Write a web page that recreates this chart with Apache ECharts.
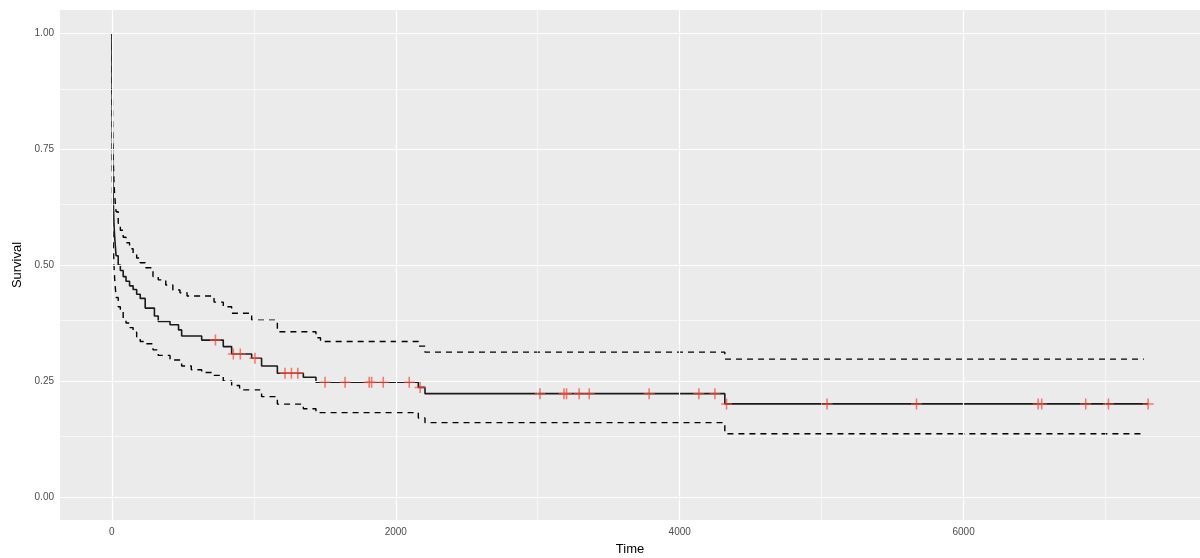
<!DOCTYPE html>
<html>
<head>
<meta charset="utf-8">
<script src="https://cdn.jsdelivr.net/npm/echarts@6/dist/echarts.min.js"></script>
<style>
html,body{margin:0;padding:0;background:#fff;}
#chart{width:1200px;height:558px;}
</style>
</head>
<body>
<div id="chart"></div>
<script>
// Kaplan-Meier estimate (time, survival after step)
const kmTime = [0,1,2,3,5,7,10,15,20,30,45,60,80,100,125,150,175,200,235,300,327,410,470,492,633,785,844,985,1055,1166,1349,1438,2159,2206,4318,7300];
const kmSurv = [1.0,0.93,0.86,0.80,0.74,0.69,0.64,0.59,0.56,0.52,0.50,0.488,0.475,0.465,0.455,0.447,0.437,0.428,0.407,0.39,0.378,0.371,0.36,0.347,0.338,0.324,0.308,0.299,0.282,0.2665,0.258,0.247,0.236,0.2225,0.2004,0.2004];

// Upper confidence bound
const upTime = [0,1,2,3,5,7,10,15,20,30,45,60,80,100,125,150,175,200,235,290,327,380,430,480,530,720,785,844,985,1166,1438,1470,2159,2206,4318,7270];
const upVal  = [1.0,0.98,0.94,0.89,0.83,0.78,0.73,0.68,0.65,0.615,0.59,0.575,0.56,0.548,0.535,0.525,0.515,0.505,0.494,0.475,0.468,0.457,0.446,0.44,0.433,0.42,0.41,0.396,0.381,0.356,0.343,0.335,0.325,0.312,0.297,0.297];

// Lower confidence bound
const loTime = [0,1,2,3,5,7,10,15,20,30,45,60,80,100,125,150,175,200,235,290,327,410,492,560,633,720,785,844,900,1055,1166,1349,1438,2159,2206,4318,7270];
const loVal  = [1.0,0.86,0.77,0.70,0.64,0.59,0.55,0.50,0.47,0.43,0.41,0.40,0.385,0.375,0.365,0.355,0.345,0.335,0.33,0.317,0.305,0.295,0.282,0.274,0.268,0.262,0.25,0.24,0.2306,0.216,0.20,0.19,0.1817,0.17,0.16,0.136,0.136];

// Censored observations
const censTime = [730,856,905,1008,1220,1265,1310,1502,1643,1813,1830,1912,2095,2172,3016,3185,3203,3292,3363,3785,4135,4248,4330,5038,5668,6525,6550,6860,7020,7300];
const censSurv = [0.338,0.308,0.308,0.299,0.2665,0.2665,0.2665,0.247,0.247,0.247,0.247,0.247,0.247,0.236,0.2225,0.2225,0.2225,0.2225,0.2225,0.2225,0.2225,0.2225,0.2004,0.2004,0.2004,0.2004,0.2004,0.2004,0.2004,0.2004];

const xTicks = [0,2000,4000,6000];
const xMinor = [1000,3000,5000,7000];
const yTicks = [0,0.25,0.5,0.75,1];
const yMinor = [0.125,0.375,0.625,0.875];

const zip = (a,b) => a.map((v,i)=>[v,b[i]]);

const gridLines = [];
xTicks.forEach(v=>gridLines.push({xAxis:v, lineStyle:{width:1.2}}));
xMinor.forEach(v=>gridLines.push({xAxis:v, lineStyle:{width:0.6}}));
yTicks.forEach(v=>gridLines.push({yAxis:v, lineStyle:{width:1.2}}));
yMinor.forEach(v=>gridLines.push({yAxis:v, lineStyle:{width:0.6}}));

const chart = echarts.init(document.getElementById('chart'), null, {renderer:'canvas'});
const font = '"Liberation Sans", Arial, sans-serif';
chart.setOption({
  animation:false,
  backgroundColor:'#ffffff',
  grid:{left:60,right:0,top:10,bottom:38,show:true,backgroundColor:'#EBEBEB',borderWidth:0,
        containLabel:false,outerBoundsMode:'none'},
  xAxis:{
    type:'value', min:-365, max:7665,
    name:'Time', nameLocation:'middle', nameGap:23,
    nameTextStyle:{color:'#000',fontSize:13,fontFamily:font},
    axisLine:{show:false},
    axisTick:{show:true,length:3,customValues:xTicks,lineStyle:{color:'#333',width:1}},
    axisLabel:{customValues:xTicks,color:'#4D4D4D',fontSize:10,fontFamily:font,margin:7,
      formatter:v=>String(Math.round(v))},
    splitLine:{show:false}
  },
  yAxis:{
    type:'value', min:-0.05, max:1.05,
    name:'Survival', nameLocation:'middle', nameGap:35, nameRotate:90,
    nameTextStyle:{color:'#000',fontSize:13,fontFamily:font},
    axisLine:{show:false},
    axisTick:{show:true,length:3,customValues:yTicks,lineStyle:{color:'#333',width:1}},
    axisLabel:{customValues:yTicks,color:'#4D4D4D',fontSize:10,fontFamily:font,margin:6,
      formatter:v=>Number(v).toFixed(2)},
    splitLine:{show:false}
  },
  series:[
    {type:'line',data:[],z:1,silent:true,
     markLine:{silent:true,symbol:['none','none'],label:{show:false},
       lineStyle:{color:'#ffffff',type:'solid'},data:gridLines,animation:false}},
    {type:'line',name:'upper',step:'end',showSymbol:false,symbol:'none',z:3,
     data:zip(upTime,upVal),lineStyle:{color:'#000',width:1.4,type:[6,5]}},
    {type:'line',name:'lower',step:'end',showSymbol:false,symbol:'none',z:3,
     data:zip(loTime,loVal),lineStyle:{color:'#000',width:1.4,type:[6,5]}},
    {type:'line',name:'surv',step:'end',showSymbol:false,symbol:'none',z:4,
     data:zip(kmTime,kmSurv),lineStyle:{color:'#1a1a1a',width:1.6}},
    {type:'scatter',name:'censor',z:5,
     symbol:'path://M4.3,0H5.7V4.3H10V5.7H5.7V10H4.3V5.7H0V4.3H4.3Z',
     symbolSize:[11,11],
     itemStyle:{color:'rgba(245,75,60,0.9)'},
     data:zip(censTime,censSurv)}
  ]
});
</script>
</body>
</html>
